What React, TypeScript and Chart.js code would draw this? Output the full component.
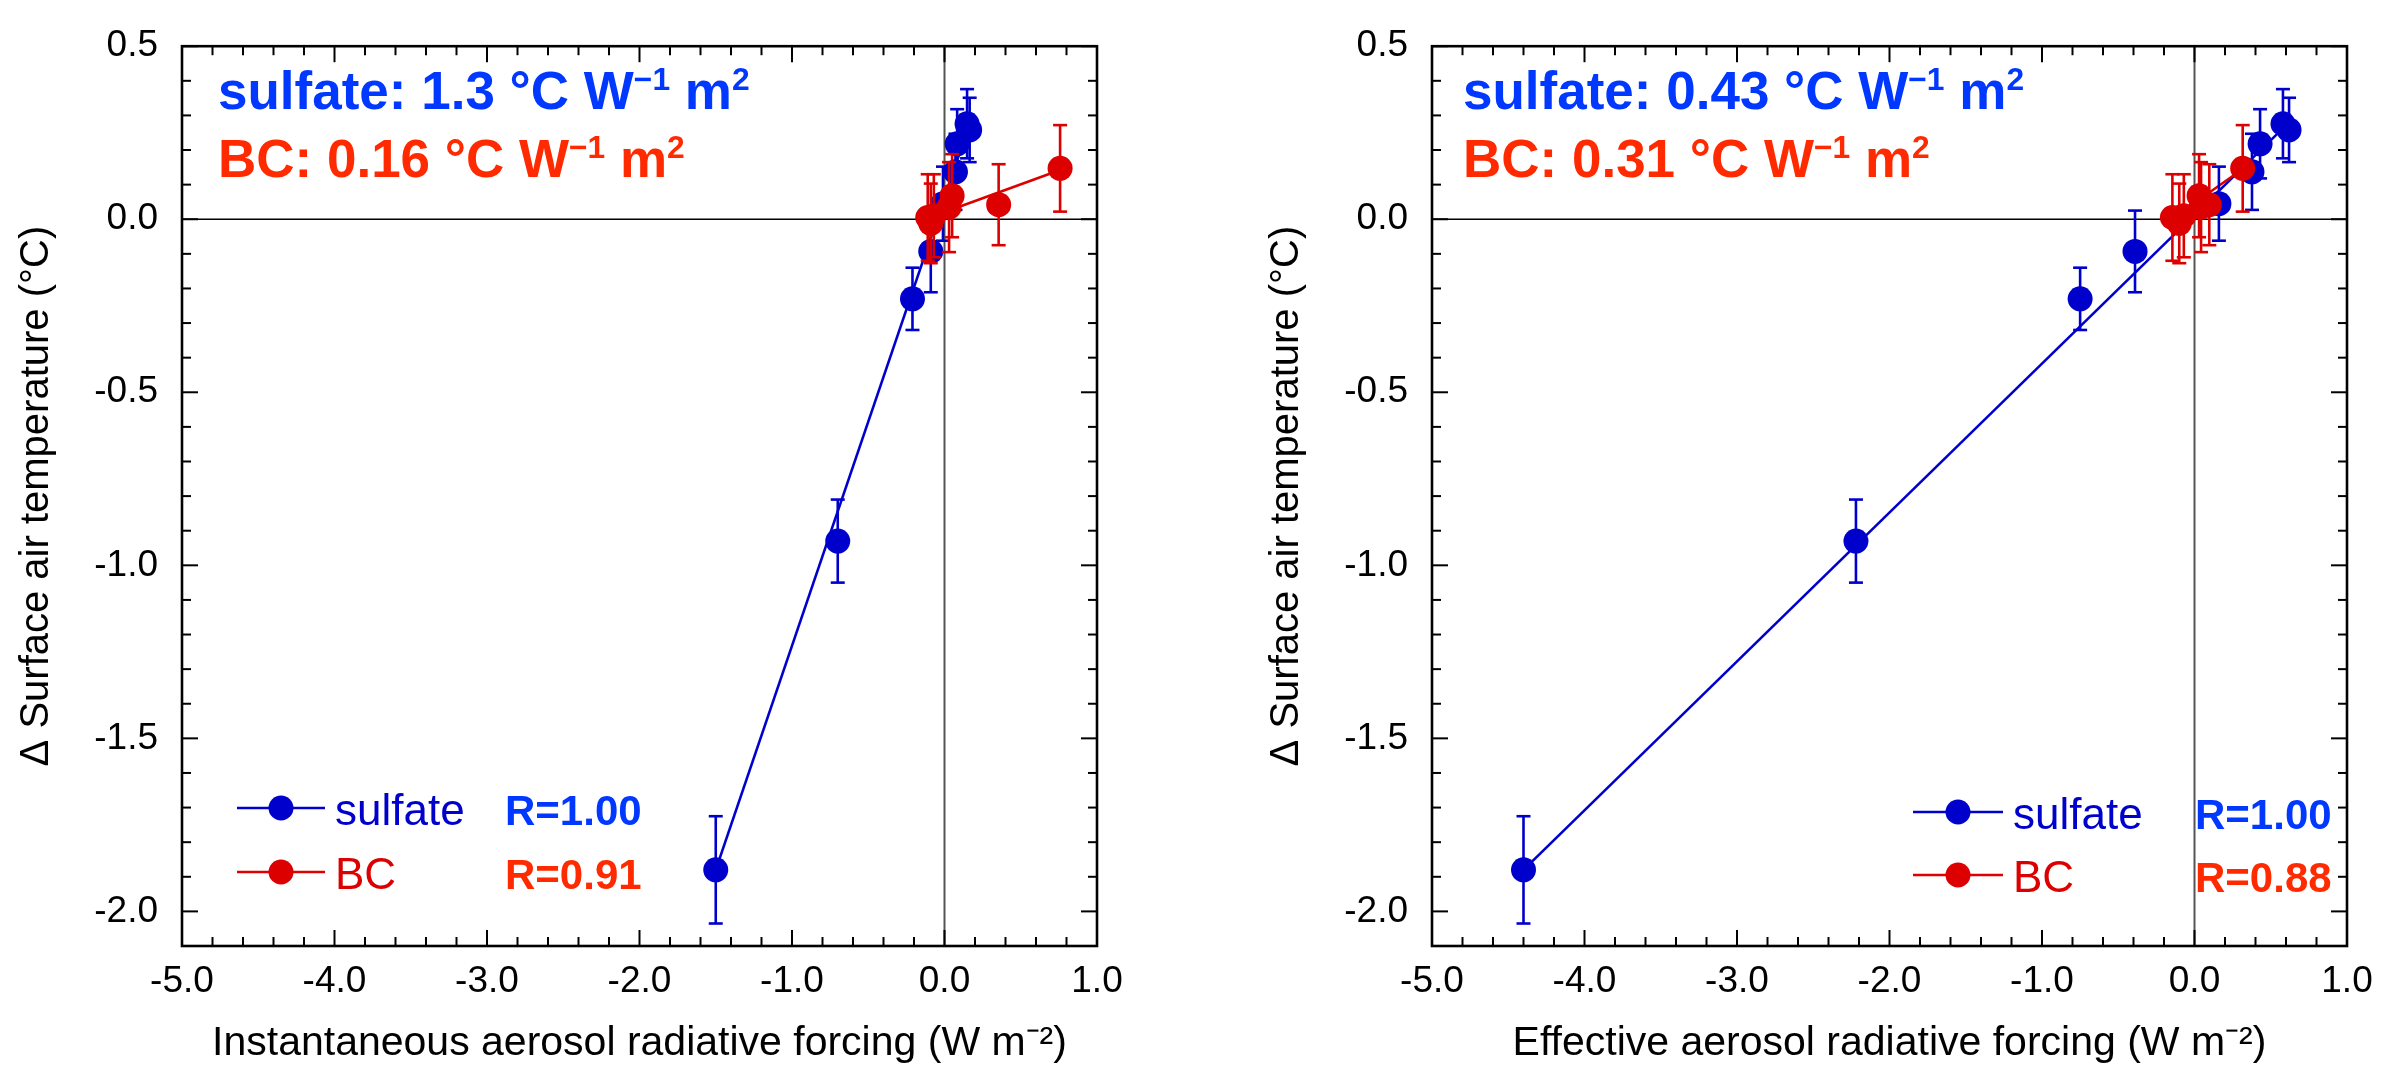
import React, { useEffect, useRef } from "react";
import { Chart, registerables } from "chart.js";

Chart.register(...registerables);

// ---------- data ----------
const sulfateTemp = [-1.88, -0.93, -0.23, -0.093, 0.045, 0.137, 0.218, 0.276, 0.258];
const sulfateErr = [0.155, 0.12, 0.09, 0.118, 0.107, 0.11, 0.1, 0.1, 0.093];
const sulfateIRF = [-1.5, -0.7, -0.21, -0.09, -0.01, 0.072, 0.083, 0.148, 0.165];
const sulfateERF = [-4.4, -2.22, -0.75, -0.39, 0.16, 0.377, 0.43, 0.58, 0.62];

const bcTemp = [0.005, -0.012, 0.01, 0.035, 0.068, 0.042, 0.147];
const bcErr = [0.125, 0.115, 0.12, 0.13, 0.12, 0.117, 0.125];
const bcIRF = [-0.11, -0.09, -0.07, 0.03, 0.05, 0.355, 0.758];
const bcERF = [-0.145, -0.1, -0.07, 0.043, 0.03, 0.097, 0.316];

// regression line end points (x, y)
const sulfateFitIRF = [{ x: -1.5, y: -1.88 }, { x: 0.16, y: 0.27 }];
const bcFitIRF = [{ x: -0.11, y: 0.003 }, { x: 0.758, y: 0.142 }];
const sulfateFitERF = [{ x: -4.4, y: -1.88 }, { x: 0.62, y: 0.28 }];
const bcFitERF = [{ x: -0.145, y: 0.002 }, { x: 0.316, y: 0.145 }];

const xTicks = [-5, -4, -3, -2, -1, 0, 1];
const yTicks = [-2.0, -1.5, -1.0, -0.5, 0.0, 0.5];
const xRange = [-5, 1];
const yRange = [-2.1, 0.5];

const sulfateSlopeIRF = "1.3";
const bcSlopeIRF = "0.16";
const sulfateSlopeERF = "0.43";
const bcSlopeERF = "0.31";
const rIRF = ["1.00", "0.91"];
const rERF = ["1.00", "0.88"];

const seriesNames = ["sulfate", "BC"];
const yTitle = "Δ Surface air temperature (°C)";
const xTitleIRF = "Instantaneous aerosol radiative forcing (W m⁻²)";
const xTitleERF = "Effective aerosol radiative forcing (W m⁻²)";

// ---------- styles ----------
const FONT = "'Liberation Sans', Arial, Helvetica, sans-serif";
const BLUE = "#0000CC";
const RED = "#DD0000";
const BLUE_TXT = "#0038FF";
const RED_TXT = "#FF2A00";

const CANVAS_W = 1147;
const CANVAS_H = 1068;

function seg(ctx: CanvasRenderingContext2D, x1: number, y1: number, x2: number, y2: number) {
  ctx.beginPath();
  ctx.moveTo(x1, y1);
  ctx.lineTo(x2, y2);
  ctx.stroke();
}

const framePlugin = {
  id: "frameTicks",
  beforeDatasetsDraw(chart: any) {
    const { ctx, chartArea: a, scales } = chart;
    const x = scales.x, y = scales.y;
    ctx.save();
    const x0 = x.getPixelForValue(0);
    const y0 = y.getPixelForValue(0);
    ctx.strokeStyle = "#555";
    ctx.lineWidth = 2;
    seg(ctx, x0, a.top, x0, a.bottom);
    ctx.strokeStyle = "#000";
    ctx.lineWidth = 1.6;
    seg(ctx, a.left, y0, a.right, y0);
    ctx.restore();
  },
  afterDatasetsDraw(chart: any) {
    const { ctx, chartArea: a, scales } = chart;
    const x = scales.x, y = scales.y;
    ctx.save();
    ctx.strokeStyle = "#000";
    ctx.lineWidth = 2;
    const eps = 1e-6;
    for (let k = Math.ceil(x.min / 0.2 - eps); k * 0.2 <= x.max + eps; k++) {
      const v = k * 0.2;
      const major = Math.abs(v - Math.round(v)) < eps;
      const len = major ? 16 : 9;
      const px = x.getPixelForValue(v);
      seg(ctx, px, a.bottom, px, a.bottom - len);
      seg(ctx, px, a.top, px, a.top + len);
    }
    for (let k = Math.ceil(y.min / 0.1 - eps); k * 0.1 <= y.max + eps; k++) {
      const v = k * 0.1;
      const major = Math.abs(v * 2 - Math.round(v * 2)) < eps;
      const len = major ? 16 : 9;
      const py = y.getPixelForValue(v);
      seg(ctx, a.left, py, a.left + len, py);
      seg(ctx, a.right, py, a.right - len, py);
    }
    ctx.lineWidth = 2.6;
    ctx.strokeRect(a.left, a.top, a.right - a.left, a.bottom - a.top);
    ctx.restore();
  },
};

const errorBarPlugin = {
  id: "errorBars",
  beforeDatasetDraw(chart: any, args: any) {
    const ds = chart.data.datasets[args.index];
    if (!ds.errors) return;
    const { ctx } = chart;
    const y = chart.scales.y;
    ctx.save();
    ctx.strokeStyle = ds.pointBackgroundColor;
    ctx.lineWidth = 2.6;
    args.meta.data.forEach((pt: any, i: number) => {
      const raw = ds.data[i];
      const e = ds.errors[i];
      const px = pt.x;
      const yt = y.getPixelForValue(raw.y + e);
      const yb = y.getPixelForValue(raw.y - e);
      seg(ctx, px, yt, px, yb);
      seg(ctx, px - 7, yt, px + 7, yt);
      seg(ctx, px - 7, yb, px + 7, yb);
    });
    ctx.restore();
  },
};

type Seg = { t: string; sup?: boolean };

function drawRich(ctx: CanvasRenderingContext2D, x: number, base: number, parts: Seg[], size: number, color: string) {
  ctx.fillStyle = color;
  ctx.textBaseline = "alphabetic";
  ctx.textAlign = "left";
  let cx = x;
  for (const p of parts) {
    const s = p.sup ? size * 0.6 : size;
    ctx.font = `bold ${s}px ${FONT}`;
    ctx.fillText(p.t, cx, p.sup ? base - size * 0.36 : base);
    cx += ctx.measureText(p.t).width;
  }
}

const textPlugin = {
  id: "panelText",
  afterDraw(chart: any, _args: any, opts: any) {
    const { ctx } = chart;
    ctx.save();
    // slope annotations
    const unit = (v: string, name: string): Seg[] => [
      { t: `${name}: ${v} °C W` },
      { t: "−1", sup: true },
      { t: " m" },
      { t: "2", sup: true },
    ];
    drawRich(ctx, opts.annX, 109, unit(opts.slopes[0], seriesNames[0]), 53, BLUE_TXT);
    drawRich(ctx, opts.annX, 177, unit(opts.slopes[1], seriesNames[1]), 53, RED_TXT);

    // legend
    const cols = [BLUE, RED];
    const rcols = [BLUE_TXT, RED_TXT];
    for (let i = 0; i < 2; i++) {
      const ry = opts.legRows[i];
      ctx.strokeStyle = cols[i];
      ctx.lineWidth = 2.6;
      seg(ctx, opts.legLine[0], ry, opts.legLine[1], ry);
      ctx.fillStyle = cols[i];
      ctx.beginPath();
      ctx.arc((opts.legLine[0] + opts.legLine[1]) / 2, ry, 12.5, 0, Math.PI * 2);
      ctx.fill();
      ctx.font = `44px ${FONT}`;
      ctx.textBaseline = "alphabetic";
      ctx.textAlign = "left";
      ctx.fillText(seriesNames[i], opts.legText, ry + 17);
      ctx.fillStyle = rcols[i];
      ctx.font = `bold 42px ${FONT}`;
      ctx.fillText(`R=${opts.r[i]}`, opts.rX, ry + 17);
    }
    ctx.restore();
  },
};

type PanelProps = {
  sulfateX: number[];
  bcX: number[];
  sulfateFit: { x: number; y: number }[];
  bcFit: { x: number; y: number }[];
  xTitle: string;
  text: any;
  left: number;
};

function Panel(p: PanelProps) {
  const ref = useRef<HTMLCanvasElement | null>(null);
  useEffect(() => {
    if (!ref.current) return;
    const sulPts = p.sulfateX.map((x, i) => ({ x, y: sulfateTemp[i] }));
    const bcPts = p.bcX.map((x, i) => ({ x, y: bcTemp[i] }));
    const tickFont = { family: FONT, size: 37 };
    const chart = new Chart(ref.current, {
      type: "scatter",
      data: {
        datasets: [
          {
            label: seriesNames[1],
            data: bcPts,
            errors: bcErr,
            pointRadius: 12.5,
            pointHoverRadius: 12.5,
            pointBackgroundColor: RED,
            pointBorderWidth: 0,
            showLine: false,
          } as any,
          {
            label: seriesNames[0],
            data: sulPts,
            errors: sulfateErr,
            pointRadius: 12.5,
            pointHoverRadius: 12.5,
            pointBackgroundColor: BLUE,
            pointBorderWidth: 0,
            showLine: false,
          } as any,
          {
            label: "BC fit",
            data: p.bcFit,
            showLine: true,
            pointRadius: 0,
            borderColor: RED,
            borderWidth: 2.6,
          },
          {
            label: "sulfate fit",
            data: p.sulfateFit,
            showLine: true,
            pointRadius: 0,
            borderColor: BLUE,
            borderWidth: 2.6,
          },
        ],
      },
      options: {
        responsive: false,
        animation: false,
        devicePixelRatio: 1,
        layout: { padding: { left: 0, top: 33, right: 50, bottom: 0 } },
        plugins: {
          legend: { display: false },
          tooltip: { enabled: false },
          panelText: p.text,
        } as any,
        scales: {
          x: {
            type: "linear",
            min: xRange[0],
            max: xRange[1],
            grid: { display: false, drawTicks: false },
            border: { display: false },
            afterBuildTicks: (s: any) => {
              s.ticks = xTicks.map((v) => ({ value: v }));
            },
            afterFit: (s: any) => {
              s.height = 122;
            },
            ticks: {
              color: "#000",
              font: tickFont,
              padding: 14,
              maxRotation: 0,
              callback: (v: any) => Number(v).toFixed(1),
            },
            title: {
              display: true,
              text: p.xTitle,
              color: "#000",
              font: { family: FONT, size: 41 },
              padding: { top: 0, bottom: 0 },
            },
          },
          y: {
            type: "linear",
            min: yRange[0],
            max: yRange[1],
            grid: { display: false, drawTicks: false },
            border: { display: false },
            afterBuildTicks: (s: any) => {
              s.ticks = yTicks.map((v) => ({ value: v }));
            },
            afterFit: (s: any) => {
              s.width = 182;
            },
            ticks: {
              color: "#000",
              font: tickFont,
              padding: 24,
              callback: (v: any) => Number(v).toFixed(1),
            },
            title: {
              display: true,
              text: yTitle,
              color: "#000",
              font: { family: FONT, size: 40 },
              padding: { top: 13, bottom: 0 },
            },
          },
        },
      },
      plugins: [framePlugin, errorBarPlugin, textPlugin],
    } as any);
    return () => chart.destroy();
  }, []);
  return (
    <canvas
      ref={ref}
      width={CANVAS_W}
      height={CANVAS_H}
      style={{ position: "absolute", left: p.left, top: 0, width: CANVAS_W, height: CANVAS_H }}
    />
  );
}

export default function App() {
  return (
    <div style={{ position: "absolute", left: 0, top: 0, width: 2397, height: 1068, background: "#fff" }}>
      <Panel
        left={0}
        sulfateX={sulfateIRF}
        bcX={bcIRF}
        sulfateFit={sulfateFitIRF}
        bcFit={bcFitIRF}
        xTitle={xTitleIRF}
        text={{
          annX: 218,
          slopes: [sulfateSlopeIRF, bcSlopeIRF],
          legRows: [808, 872],
          legLine: [237, 325],
          legText: 335,
          rX: 505,
          r: rIRF,
        }}
      />
      <Panel
        left={1250}
        sulfateX={sulfateERF}
        bcX={bcERF}
        sulfateFit={sulfateFitERF}
        bcFit={bcFitERF}
        xTitle={xTitleERF}
        text={{
          annX: 213,
          slopes: [sulfateSlopeERF, bcSlopeERF],
          legRows: [812, 875],
          legLine: [663, 753],
          legText: 763,
          rX: 945,
          r: rERF,
        }}
      />
    </div>
  );
}
